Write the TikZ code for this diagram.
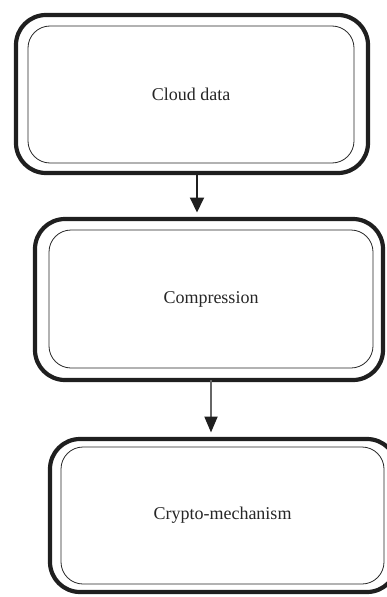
\documentclass[tikz,border=0pt]{standalone}
\usepackage{fontspec}
\setmainfont{Liberation Serif}
\usetikzlibrary{arrows.meta,calc}
\begin{document}
\begin{tikzpicture}[x=1pt,y=-1pt,
  outerbox/.style={draw=black!88,line width=4.2pt,rounded corners=30pt,inner sep=0pt,outer sep=0pt},
  innerbox/.style={draw=black!85,line width=0.8pt,rounded corners=22pt,inner sep=0pt,outer sep=0pt,
     font=\fontsize{18}{21}\selectfont,text=black!85},
  arr/.style={line width=2pt,-{Triangle[length=15pt,width=14pt]},shorten >=6.5pt}]
\useasboundingbox (0,0) rectangle (387,597);
\clip (0,0) rectangle (387,597);
\node[outerbox,minimum width=352pt,minimum height=158pt] (b1) at (192,94) {};
\node[innerbox,minimum width=326pt,minimum height=137pt] (b1i) at (191,94.5) {Cloud data};
\node[outerbox,minimum width=348pt,minimum height=161pt] (b2) at (209,299.5) {};
\node[innerbox,minimum width=324pt,minimum height=138pt] (b2i) at (211,299) {Compression};
\node[outerbox,minimum width=347pt,minimum height=153pt] (b3) at (223.5,515.5) {};
\node[innerbox,minimum width=323pt,minimum height=137pt] (b3i) at (222.5,515.5) {Crypto-mechanism};
\draw[arr,draw=black!88] ([xshift=5pt]b1.south) -- ([xshift=5pt]b1.south |- b2.north);
\draw[arr,draw=black!60,-{Triangle[length=16pt,width=13pt,black!88]}] (b2.south -| b2i) -- (b2i |- b3.north);
\end{tikzpicture}
\end{document}
